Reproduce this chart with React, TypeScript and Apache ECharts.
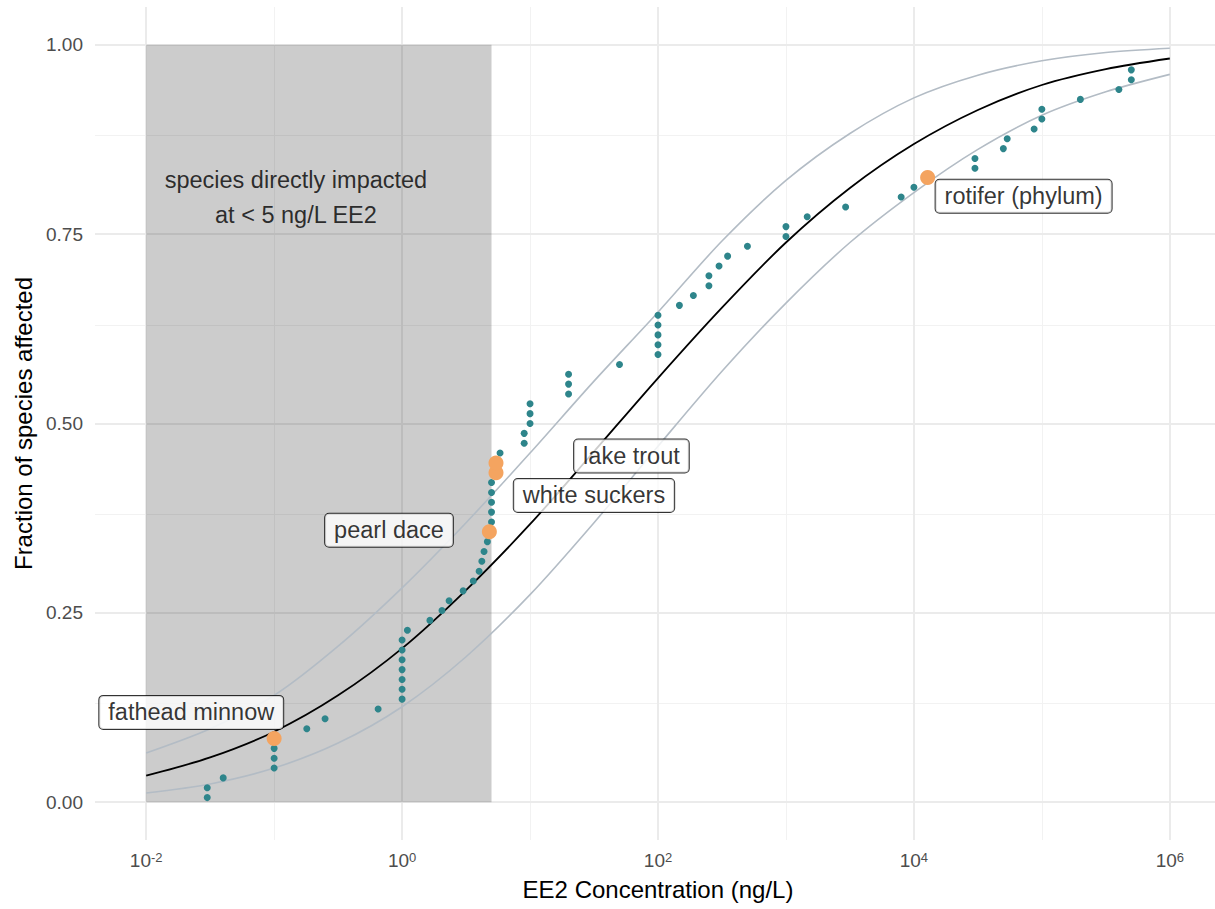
import React, { useEffect, useRef } from "react";
import * as echarts from "echarts";

// ---------- data ----------
// species sensitivity points (EE2 concentration in ng/L, fraction of species affected)
const speciesConc = [
  0.03, 0.03, 0.04, 0.1, 0.1, 0.1, 0.18, 0.25, 0.65, 1, 1, 1, 1, 1, 1, 1, 1.1, 1.65, 2.05, 2.33,
  3, 3.6, 4, 4.2, 4.37, 4.64, 5, 5, 5, 5, 5, 5.83, 9, 9, 10, 10, 10, 20, 20, 20, 50, 100, 100, 100,
  100, 100, 147, 189, 250, 250, 300, 350, 500, 1000, 1000, 1466, 2926, 7950, 10000, 30000, 30000,
  50000, 53600, 87000, 100000, 100000, 200000, 400000, 500000, 500000,
];
const speciesFrac = [
  0.006, 0.019, 0.032, 0.045, 0.058, 0.071, 0.097, 0.11, 0.123, 0.136, 0.149, 0.162, 0.175, 0.188,
  0.201, 0.214, 0.227, 0.24, 0.253, 0.266, 0.279, 0.292, 0.305, 0.318, 0.331, 0.344, 0.37, 0.383,
  0.396, 0.409, 0.422, 0.461, 0.474, 0.487, 0.5, 0.513, 0.526, 0.539, 0.552, 0.565, 0.578, 0.591,
  0.604, 0.617, 0.63, 0.643, 0.656, 0.669, 0.682, 0.695, 0.708, 0.721, 0.734, 0.747, 0.76, 0.773,
  0.786, 0.799, 0.812, 0.837, 0.85, 0.863, 0.876, 0.889, 0.902, 0.915, 0.928, 0.941, 0.954, 0.967,
];

// highlighted species
const highlightNames = ["fathead minnow", "pearl dace", "white suckers", "lake trout", "rotifer (phylum)"];
const highlightConc = [0.1, 4.81, 5.42, 5.42, 12800];
const highlightFrac = [0.084, 0.357, 0.435, 0.448, 0.825];
// where each label box is centred (data coordinates)
const labelConc = [0.0225, 0.79, 31.6, 62, 72000];
const labelFrac = [0.1185, 0.359, 0.405, 0.457, 0.8];

// fitted curve (median) and its bounds, read at half-decade steps
const curveLog10Conc = [-2, -1.5, -1, -0.5, 0, 0.5, 1, 1.5, 2, 2.5, 3, 3.5, 4, 4.5, 5, 5.5, 6];
const fitMedian = [0.035, 0.059, 0.093, 0.141, 0.203, 0.28, 0.367, 0.463, 0.56, 0.653, 0.739, 0.811, 0.869, 0.914, 0.947, 0.968, 0.982];
const fitUpper = [0.065, 0.097, 0.141, 0.206, 0.283, 0.369, 0.461, 0.556, 0.647, 0.741, 0.821, 0.883, 0.93, 0.96, 0.979, 0.99, 0.9956];
const fitLower = [0.012, 0.024, 0.045, 0.078, 0.126, 0.192, 0.274, 0.369, 0.47, 0.569, 0.659, 0.739, 0.805, 0.862, 0.907, 0.938, 0.961];

// shaded region: species impacted below 5 ng/L
const shadeConc = [0.01, 5];
const shadeFrac = [0, 1];
const shadeText = "species directly impacted\nat < 5 ng/L EE2";
const shadeTextConc = 0.148;
const shadeTextFrac = 0.798;

// axes
const xMajorPowers = [-2, 0, 2, 4, 6];
const xMinorPowers = [-1, 1, 3, 5];
const yMajorTicks = [0, 0.25, 0.5, 0.75, 1];
const yMinorTicks = [0.125, 0.375, 0.625, 0.875];

const FONT = '"Liberation Sans", Arial, Helvetica, sans-serif';
const lg = (v: number) => Math.log10(v);

export default function App() {
  const ref = useRef<HTMLDivElement>(null);

  useEffect(() => {
    if (!ref.current) return;
    const chart = echarts.init(ref.current, undefined, { renderer: "svg" });

    const gridMajor = { color: "#EBEBEB", width: 2, type: "solid" };
    const gridMinor = { color: "#F2F2F2", width: 1, type: "solid" };

    const option: any = {
      animation: false,
      backgroundColor: "#ffffff",
      textStyle: { fontFamily: FONT },
      grid: {
        left: 95,
        top: 7,
        width: 1126,
        height: 833,
        containLabel: false,
        outerBoundsMode: "none",
      },
      xAxis: {
        type: "value",
        min: -2.4,
        max: 6.4,
        interval: 0.2,
        axisLine: { show: false },
        axisTick: { show: false },
        splitLine: { show: false },
        axisLabel: {
          margin: 11,
          color: "#4D4D4D",
          fontFamily: FONT,
          formatter: (v: number) => {
            const n = Math.round(v);
            if (Math.abs(v - n) > 1e-6 || !xMajorPowers.includes(n)) return "";
            return `{base|10}{sup|${n}}`;
          },
          rich: {
            base: { fontSize: 19, lineHeight: 19, color: "#4D4D4D", fontFamily: FONT, verticalAlign: "bottom" },
            sup: { fontSize: 13, lineHeight: 13, color: "#4D4D4D", fontFamily: FONT, verticalAlign: "top", padding: [0, 0, 9, 0] },
          },
        },
        name: "EE2 Concentration (ng/L)",
        nameLocation: "middle",
        nameGap: 34,
        nameTextStyle: { fontSize: 24, color: "#000", fontFamily: FONT },
      },
      yAxis: {
        type: "value",
        min: -0.05,
        max: 1.05,
        interval: 0.05,
        axisLine: { show: false },
        axisTick: { show: false },
        splitLine: { show: false },
        axisLabel: {
          margin: 12,
          fontSize: 19,
          color: "#4D4D4D",
          fontFamily: FONT,
          formatter: (v: number) => {
            const hit = yMajorTicks.find((t) => Math.abs(t - v) < 1e-6);
            return hit === undefined ? "" : hit.toFixed(2);
          },
        },
        name: "Fraction of species affected",
        nameLocation: "middle",
        nameRotate: 90,
        nameGap: 58,
        nameTextStyle: { fontSize: 24, color: "#000", fontFamily: FONT },
      },
      series: [
        {
          type: "line",
          name: "lower",
          data: curveLog10Conc.map((x, i) => [x, fitLower[i]]),
          smooth: 0.3,
          showSymbol: false,
          silent: true,
          lineStyle: { color: "#B3BCC5", width: 1.6 },
          z: 3,
          markLine: {
            silent: true,
            symbol: ["none", "none"],
            label: { show: false },
            z: 0,
            data: [
              ...xMinorPowers.map((p) => ({ xAxis: p, lineStyle: gridMinor })),
              ...yMinorTicks.map((t) => ({ yAxis: t, lineStyle: gridMinor })),
              ...xMajorPowers.map((p) => ({ xAxis: p, lineStyle: gridMajor })),
              ...yMajorTicks.map((t) => ({ yAxis: t, lineStyle: gridMajor })),
            ],
          },
          markArea: {
            silent: true,
            z: 1,
            itemStyle: { color: "rgba(0,0,0,0.2)" },
            data: [[{ coord: [lg(shadeConc[0]), shadeFrac[0]] }, { coord: [lg(shadeConc[1]), shadeFrac[1]] }]],
          },
        },
        {
          type: "line",
          name: "upper",
          data: curveLog10Conc.map((x, i) => [x, fitUpper[i]]),
          smooth: 0.3,
          showSymbol: false,
          silent: true,
          lineStyle: { color: "#B3BCC5", width: 1.6 },
          z: 3,
        },
        {
          type: "line",
          name: "median",
          data: curveLog10Conc.map((x, i) => [x, fitMedian[i]]),
          smooth: 0.3,
          showSymbol: false,
          silent: true,
          lineStyle: { color: "#000000", width: 1.8 },
          z: 4,
        },
        {
          type: "scatter",
          name: "species",
          data: speciesConc.map((c, i) => [lg(c), speciesFrac[i]]),
          symbolSize: 7,
          itemStyle: { color: "#2E858B", opacity: 1 },
          silent: true,
          z: 5,
        },
        {
          type: "scatter",
          name: "highlight",
          data: highlightConc.map((c, i) => [lg(c), highlightFrac[i]]),
          symbolSize: 15,
          itemStyle: { color: "#F4A460", opacity: 1 },
          silent: true,
          z: 6,
        },
        {
          type: "scatter",
          name: "labels",
          data: labelConc.map((c, i) => ({ value: [lg(c), labelFrac[i]], name: highlightNames[i] })),
          symbolSize: 0.1,
          itemStyle: { color: "rgba(0,0,0,0)" },
          silent: true,
          z: 7,
          label: {
            show: true,
            position: "inside",
            formatter: "{b}",
            fontFamily: FONT,
            fontSize: 23.5,
            lineHeight: 25,
            color: "#000",
            backgroundColor: "#fff",
            borderColor: "#000",
            borderWidth: 1,
            borderRadius: 4,
            padding: [4, 9, 4, 9],
          },
        },
        {
          type: "scatter",
          name: "shadeText",
          data: [{ value: [lg(shadeTextConc), shadeTextFrac], name: shadeText }],
          symbolSize: 0.1,
          itemStyle: { color: "rgba(0,0,0,0)" },
          silent: true,
          z: 7,
          label: {
            show: true,
            position: "inside",
            formatter: "{b}",
            align: "center",
            fontFamily: FONT,
            fontSize: 23.5,
            lineHeight: 35,
            color: "#000",
          },
        },
      ],
    };

    chart.setOption(option);
    return () => chart.dispose();
  }, []);

  return (
    <div
      ref={ref}
      style={{ position: "absolute", left: 0, top: 0, width: 1215, height: 909, background: "#fff" }}
    />
  );
}
